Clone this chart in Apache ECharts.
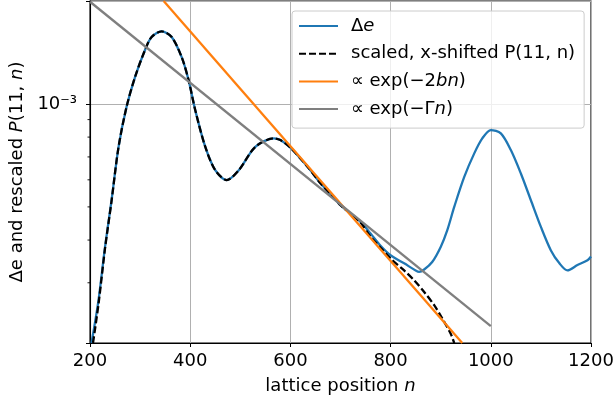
<!DOCTYPE html>
<html><head><meta charset="utf-8">
<script src="https://cdn.jsdelivr.net/npm/echarts@6/dist/echarts.min.js"></script>
<style>html,body{margin:0;padding:0;background:#fff}#c{width:616px;height:405px}</style>
</head><body><div id="c"></div>
<script>
const xTicks = [200, 400, 600, 800, 1000, 1200];
const yRange = [2e-4, 2e-3];
const yMajorTicks = [1e-3];
const yMajorTickLabels = ['10⁻³'];
const yMinorTicks = [3e-4, 4e-4, 5e-4, 6e-4, 7e-4, 8e-4, 9e-4];

const seriesNames = ['Δe', 'scaled, x-shifted P(11, n)', '∝ exp(−2bn)', '∝ exp(−Γn)'];

const deltaE = [
 [203, 2.0e-4], [217, 2.67e-4], [230, 3.82e-4], [243, 5.23e-4], [257, 7.49e-4], [273, 9.81e-4],
 [290, 1.20e-3], [310, 1.44e-3], [323, 1.57e-3], [343, 1.63e-3], [363, 1.57e-3], [383, 1.37e-3],
 [397, 1.17e-3], [410, 9.6e-4], [430, 7.5e-4], [450, 6.4e-4], [473, 5.99e-4], [497, 6.4e-4],
 [530, 7.49e-4], [567, 7.93e-4], [580, 7.84e-4], [600, 7.45e-4], [620, 6.93e-4], [640, 6.4e-4],
 [660, 5.86e-4], [680, 5.45e-4], [700, 5.06e-4], [720, 4.78e-4], [740, 4.52e-4], [760, 4.18e-4],
 [780, 3.85e-4], [800, 3.61e-4], [827, 3.42e-4], [850, 3.26e-4], [857, 3.23e-4], [867, 3.28e-4],
 [883, 3.45e-4], [900, 3.82e-4], [913, 4.27e-4], [927, 5.0e-4], [947, 6.12e-4], [967, 7.17e-4],
 [983, 7.93e-4], [1000, 8.39e-4], [1020, 8.2e-4], [1040, 7.33e-4], [1060, 6.26e-4], [1080, 5.23e-4],
 [1100, 4.37e-4], [1120, 3.73e-4], [1137, 3.42e-4], [1153, 3.26e-4], [1173, 3.38e-4], [1193, 3.49e-4],
 [1200, 3.58e-4]
];

const scaledP = [
 [206, 2.0e-4], [217, 2.6e-4], [230, 3.78e-4], [243, 5.2e-4], [257, 7.49e-4], [273, 9.81e-4],
 [290, 1.20e-3], [310, 1.44e-3], [323, 1.57e-3], [343, 1.63e-3], [363, 1.57e-3], [383, 1.37e-3],
 [397, 1.17e-3], [410, 9.6e-4], [430, 7.5e-4], [450, 6.4e-4], [473, 5.99e-4], [497, 6.4e-4],
 [530, 7.49e-4], [567, 7.93e-4], [580, 7.84e-4], [600, 7.45e-4], [620, 6.93e-4], [640, 6.4e-4],
 [660, 5.86e-4], [680, 5.45e-4], [700, 5.06e-4], [720, 4.78e-4], [740, 4.5e-4], [760, 4.09e-4],
 [780, 3.8e-4], [800, 3.53e-4], [827, 3.26e-4], [847, 3.05e-4], [867, 2.82e-4], [887, 2.58e-4],
 [903, 2.36e-4], [920, 2.13e-4], [927, 2.0e-4]
];

const expTwoB = [[347, 2.0e-3], [943, 2.0e-4]];
const expGamma = [[200, 1.99e-3], [1000, 2.24e-4]];

const FONT = 'DejaVu Sans';
const FS = 18;

const legendRich = {
  'Δe': '{t|Δ}{i|e}',
  'scaled, x-shifted P(11, n)': '{t|scaled, x-shifted P(11, n)}',
  '∝ exp(−2bn)': '{t|∝ exp(−2}{i|bn}{t|)}',
  '∝ exp(−Γn)': '{t|∝ exp(−Γ}{i|n}{t|)}'
};

const chart = echarts.init(document.getElementById('c'), null, {renderer: 'canvas'});
chart.setOption({
  animation: false,
  backgroundColor: '#fff',
  textStyle: {fontFamily: FONT},
  grid: {left: 90, right: 25, top: 1, bottom: 62, show: true, borderColor: '#000', borderWidth: 1.1,
         backgroundColor: 'transparent', containLabel: false, outerBoundsMode: 'none'},
  xAxis: {
    type: 'value', min: xTicks[0], max: xTicks[xTicks.length - 1], interval: xTicks[1] - xTicks[0],
    axisLine: {show: true, lineStyle: {color: '#000', width: 1.1}},
    axisTick: {show: true, inside: false, length: 4, lineStyle: {color: '#000', width: 1}},
    axisLabel: {margin: 9, color: '#000', fontSize: FS, fontFamily: FONT,
      formatter: function (v) { return String(v); }},
    splitLine: {show: true, lineStyle: {color: '#b0b0b0', width: 1}},
    name: 'lattice position {i|n}', nameLocation: 'middle', nameGap: 34,
    nameTextStyle: {color: '#000', fontSize: FS, fontFamily: FONT,
      rich: {i: {fontStyle: 'italic', fontSize: FS, fontFamily: FONT, color: '#000'}}}
  },
  yAxis: {
    type: 'log', logBase: 10, min: yRange[0], max: yRange[1],
    axisLine: {show: true, lineStyle: {color: '#000', width: 1.1}},
    axisTick: {show: true, inside: false, length: 4, lineStyle: {color: '#000', width: 1}},
    axisLabel: {
      margin: 13, color: '#000', fontSize: FS, fontFamily: FONT,
      formatter: function (v) {
        for (let k = 0; k < yMajorTicks.length; k++) {
          if (Math.abs(v - yMajorTicks[k]) / yMajorTicks[k] < 1e-6) return yMajorTickLabels[k];
        }
        return '';
      }
    },
    splitLine: {show: true, lineStyle: {color: '#b0b0b0', width: 1}},
    name: 'Δe and rescaled {i|P}(11, {i|n})', nameLocation: 'middle', nameGap: 64, nameRotate: 90,
    nameTextStyle: {color: '#000', fontSize: FS, fontFamily: FONT,
      rich: {i: {fontStyle: 'italic', fontSize: FS, fontFamily: FONT, color: '#000'}}}
  },
  legend: {
    data: seriesNames,
    orient: 'vertical', left: 292, top: 11,
    padding: [5, 9, 9, 6],
    itemWidth: 39, itemHeight: 14, itemGap: 7.7,
    backgroundColor: 'rgba(255,255,255,0.8)', borderColor: '#cccccc', borderWidth: 1, borderRadius: 3,
    itemStyle: {opacity: 0},
    formatter: function (name) { return legendRich[name]; },
    textStyle: {
      fontSize: FS, fontFamily: FONT, color: '#000', lineHeight: 20, padding: [0, 0, 0, 8],
      rich: {
        t: {fontSize: FS, fontFamily: FONT, color: '#000', lineHeight: 20},
        i: {fontSize: FS, fontFamily: FONT, color: '#000', fontStyle: 'italic', lineHeight: 20}
      }
    }
  },
  series: [
    {name: seriesNames[0], type: 'line', data: deltaE, symbol: 'none', smooth: 0.3, z: 3,
     lineStyle: {color: '#1f77b4', width: 2.3}, itemStyle: {color: '#1f77b4'}},
    {name: seriesNames[1], type: 'line', data: scaledP, symbol: 'none', smooth: 0.3, z: 4,
     lineStyle: {color: '#000', width: 2.3, type: [7, 3]}, itemStyle: {color: '#000'}},
    {name: seriesNames[2], type: 'line', data: expTwoB, symbol: 'none', z: 5,
     lineStyle: {color: '#ff7f0e', width: 2.3}, itemStyle: {color: '#ff7f0e'}},
    {name: seriesNames[3], type: 'line', data: expGamma, symbol: 'none', z: 6,
     lineStyle: {color: '#7f7f7f', width: 2.3}, itemStyle: {color: '#7f7f7f'}},
    {name: 'minorTicks', type: 'custom', silent: true, clip: false, z: 7,
     data: yMinorTicks.map(v => [xTicks[0], v]),
     renderItem: function (params, api) {
       const p = api.coord([api.value(0), api.value(1)]);
       return {type: 'line', shape: {x1: p[0] - 2.5, y1: p[1], x2: p[0], y2: p[1]},
               style: {stroke: '#000', lineWidth: 0.9}};
     }}
  ]
});
</script></body></html>
